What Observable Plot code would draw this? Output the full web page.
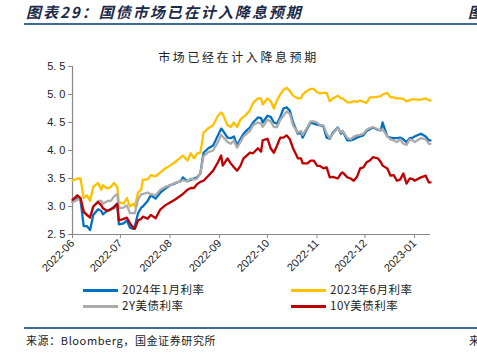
<!DOCTYPE html>
<html><head><meta charset="utf-8">
<script src="https://cdn.jsdelivr.net/npm/d3@7"></script>
<script src="https://cdn.jsdelivr.net/npm/@observablehq/plot@0.6"></script>
<style>
body{margin:0;background:#fff;}
#wrap{position:relative;width:477px;height:356px;overflow:hidden;font-family:"Noto Sans CJK SC",sans-serif;}
.abs{position:absolute;white-space:nowrap;}
#chart{position:absolute;left:0;top:0;}
</style></head>
<body><div id="wrap">
<div class="abs" style="left:26px;top:1px;font-size:15px;font-weight:bold;font-style:italic;letter-spacing:2px;color:#1c2b4a;">图表29：国债市场已在计入降息预期</div>
<div class="abs" style="left:468px;top:1px;font-size:15px;font-weight:bold;font-style:italic;color:#1c2b4a;">图</div>
<div class="abs" style="left:24px;top:23px;width:453px;height:2px;background:#3d6a9a;"></div>
<div class="abs" style="left:0;width:477px;top:48px;text-align:center;font-size:12px;letter-spacing:2.6px;color:#222;">市场已经在计入降息预期</div>
<div id="chart"></div>
<div id="legend"></div>
<div class="abs" style="left:24px;top:327px;width:453px;height:1.5px;background:#3d6a9a;"></div>
<div class="abs" style="left:26px;top:332px;font-size:11px;letter-spacing:0.6px;color:#222;">来源：Bloomberg，国金证券研究所</div>
<div class="abs" style="left:469px;top:332px;font-size:11px;color:#222;">来</div>
</div>
<script>
const dates = ["2022-06-01","2022-06-04","2022-06-06","2022-06-08","2022-06-10","2022-06-12","2022-06-14","2022-06-17","2022-06-19","2022-06-20","2022-06-23","2022-06-25","2022-06-27","2022-06-29",
"2022-06-30","2022-07-03","2022-07-05","2022-07-07","2022-07-09","2022-07-10","2022-07-12","2022-07-14","2022-07-15","2022-07-18","2022-07-20","2022-07-23","2022-07-26","2022-07-29",
"2022-08-01","2022-08-04","2022-08-08","2022-08-09","2022-08-12","2022-08-14","2022-08-16","2022-08-18","2022-08-20","2022-08-22","2022-08-25","2022-08-28","2022-08-31",
"2022-09-02","2022-09-03","2022-09-06","2022-09-08","2022-09-10","2022-09-12","2022-09-14","2022-09-16","2022-09-18","2022-09-20","2022-09-22","2022-09-25","2022-09-27","2022-09-28",
"2022-10-01","2022-10-03","2022-10-05","2022-10-07","2022-10-09","2022-10-11","2022-10-13","2022-10-15","2022-10-17","2022-10-20","2022-10-22","2022-10-23","2022-10-26","2022-10-28","2022-10-30",
"2022-11-01","2022-11-03","2022-11-05","2022-11-07","2022-11-09","2022-11-11","2022-11-14","2022-11-16","2022-11-17","2022-11-20","2022-11-22","2022-11-24","2022-11-26","2022-11-28","2022-11-30",
"2022-12-02","2022-12-04","2022-12-06","2022-12-09","2022-12-11","2022-12-12","2022-12-15","2022-12-17","2022-12-19","2022-12-21","2022-12-23","2022-12-25","2022-12-27","2022-12-29","2022-12-31",
"2023-01-01","2023-01-05","2023-01-08","2023-01-10","2023-01-11"];

const rateJan2024 = [3.08,3.15,3.12,2.65,2.65,2.58,2.85,2.95,2.92,2.86,2.93,2.95,3.00,3.05,
2.68,2.70,2.75,2.62,2.60,2.65,2.88,2.98,3.00,3.10,3.20,3.14,3.25,3.32,
3.38,3.41,3.46,3.52,3.45,3.48,3.50,3.52,3.59,3.96,4.04,4.09,4.27,
4.39,4.36,4.23,4.22,4.25,4.09,4.20,4.30,4.36,4.41,4.50,4.59,4.58,4.50,
4.62,4.60,4.50,4.48,4.60,4.75,4.77,4.71,4.50,4.30,4.32,4.23,4.40,4.50,4.48,
4.46,4.45,4.43,4.23,4.21,4.32,4.41,4.30,4.35,4.18,4.18,4.20,4.23,4.25,4.27,
4.35,4.38,4.41,4.37,4.36,4.50,4.25,4.23,4.22,4.22,4.23,4.20,4.15,4.22,4.23,
4.25,4.30,4.25,4.18,4.18];

const rateJun2023 = [3.46,3.50,3.50,3.15,3.20,3.10,3.35,3.42,3.30,3.38,3.32,3.35,3.42,3.35,
3.08,3.05,3.15,3.00,3.05,3.00,3.25,3.30,3.48,3.48,3.56,3.54,3.61,3.68,
3.73,3.79,3.88,3.91,3.82,3.95,3.86,3.95,3.96,4.32,4.40,4.45,4.62,
4.68,4.65,4.45,4.42,4.50,4.42,4.55,4.60,4.65,4.72,4.85,4.93,4.93,4.82,
4.93,4.88,4.75,4.90,5.00,5.08,5.12,5.06,4.98,4.93,4.93,5.00,5.07,5.10,5.10,
5.04,5.02,5.03,5.03,4.88,4.93,4.98,4.93,4.93,4.86,4.86,4.88,4.87,4.89,4.87,
4.85,4.95,4.95,4.96,4.97,5.00,5.03,4.95,4.95,4.93,4.93,4.92,4.88,4.90,4.92,
4.91,4.91,4.93,4.90,4.89];

const ust2Y = [3.07,3.12,3.15,2.93,2.85,2.82,3.00,3.10,3.10,3.05,3.10,3.10,3.18,3.22,
2.97,2.98,3.02,2.88,2.88,2.88,3.12,3.22,3.22,3.25,3.22,3.20,3.30,3.35,
3.38,3.42,3.45,3.47,3.45,3.50,3.48,3.50,3.60,3.90,3.97,4.00,4.15,
4.28,4.25,4.15,4.12,4.18,4.05,4.15,4.25,4.30,4.35,4.45,4.50,4.48,4.42,
4.55,4.52,4.42,4.42,4.55,4.62,4.70,4.65,4.45,4.32,4.35,4.28,4.42,4.52,4.52,
4.50,4.45,4.45,4.30,4.22,4.30,4.40,4.32,4.35,4.22,4.20,4.25,4.27,4.28,4.30,
4.37,4.40,4.42,4.38,4.36,4.38,4.25,4.20,4.18,4.15,4.20,4.12,4.10,4.20,4.18,
4.15,4.22,4.20,4.12,4.12];

const ust10Y = [3.12,3.20,3.15,2.90,2.85,2.80,3.00,3.08,3.02,2.97,2.92,2.95,2.98,3.05,
2.75,2.78,2.80,2.70,2.62,2.60,2.75,2.78,2.82,2.78,2.85,2.79,2.95,3.02,
3.07,3.12,3.20,3.22,3.30,3.33,3.33,3.40,3.44,3.46,3.55,3.64,3.79,
3.91,3.73,3.86,3.77,3.70,3.64,3.72,3.86,3.91,3.96,3.95,4.04,3.98,4.18,
4.21,4.04,3.96,4.09,4.23,4.23,4.27,4.20,4.04,3.86,3.86,3.77,3.77,3.82,3.82,
3.73,3.72,3.68,3.70,3.52,3.53,3.50,3.59,3.61,3.52,3.50,3.46,3.53,3.68,3.70,
3.79,3.82,3.88,3.86,3.79,3.73,3.68,3.55,3.56,3.46,3.48,3.59,3.41,3.50,3.49,
3.46,3.52,3.55,3.43,3.43];

const seriesNames = ["2024年1月利率","2023年6月利率","2Y美债利率","10Y美债利率"];
const seriesColors = ["#0070C0","#FFC000","#ABABAB","#C00000"];
const seriesValues = [rateJan2024, rateJun2023, ust2Y, ust10Y];
const yTicks = [2.5,3.0,3.5,4.0,4.5,5.0,5.5];
const xTicks = ["2022-06-01","2022-07-01","2022-08-01","2022-09-01","2022-10-01","2022-11-01","2022-12-01","2023-01-01"];

const parse = d3.utcParse("%Y-%m-%d");
const rows = [];
seriesNames.forEach((name, i) => {
  dates.forEach((d, j) => rows.push({date: parse(d), value: seriesValues[i][j], series: name}));
});

const chart = Plot.plot({
  width: 477, height: 356,
  marginLeft: 72, marginRight: 47, marginTop: 66, marginBottom: 122,
  style: {fontFamily: "Liberation Sans, Arial, sans-serif", fontSize: "11px", color: "#222", background: "transparent"},
  x: {type: "utc", domain: [parse("2022-06-01"), parse("2023-01-11")]},
  y: {domain: [2.5, 5.5]},
  color: {domain: seriesNames, range: seriesColors},
  marks: [
    Plot.axisY({ticks: yTicks, tickFormat: d => d3.format(".1f")(d).replace(".", ". "), tickSize: 4, tickPadding: 3, stroke: "#888", label: null, fontSize: 11}),
    Plot.axisX({ticks: xTicks.map(parse), tickFormat: d3.utcFormat("%Y-%m"), tickSize: 4, tickRotate: -45, tickPadding: 3, stroke: "#888", label: null, fontSize: 11}),
    Plot.ruleX([parse("2022-06-01")], {stroke: "#888", strokeWidth: 1.2}),
    Plot.ruleY([2.5], {stroke: "#888", strokeWidth: 1.2}),
    Plot.line(rows, {x: "date", y: "value", z: "series", stroke: "series", strokeWidth: 2.3, curve: "linear"})
  ]
});
document.getElementById("chart").appendChild(chart);

// legend
const legend = document.getElementById("legend");
const pos = [[83,290],[291,290],[83,306],[291,306]];
seriesNames.forEach((name, i) => {
  const [lx, ly] = pos[i];
  const sw = document.createElement("div");
  sw.className = "abs";
  sw.style.cssText = `left:${lx}px;top:${ly-1.5}px;width:35px;height:3px;background:${seriesColors[i]};`;
  legend.appendChild(sw);
  const t = document.createElement("div");
  t.className = "abs";
  t.style.cssText = `left:${lx+39}px;top:${ly-9}px;font-size:11.5px;line-height:16px;letter-spacing:0.5px;color:#222;`;
  t.textContent = name;
  legend.appendChild(t);
});
</script>
</body></html>
